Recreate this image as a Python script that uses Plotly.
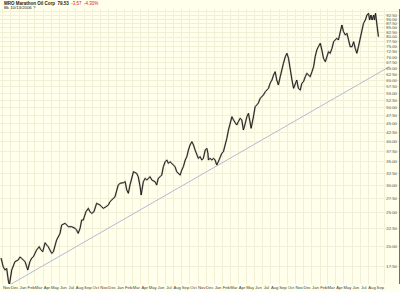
import plotly.graph_objects as go
import pandas as pd

# ---- data ----
dates = [
"2002-10-25","2002-11-02","2002-11-09","2002-11-15","2002-11-21","2002-11-25","2002-12-04","2002-12-10","2002-12-16","2002-12-28",
"2003-01-04","2003-01-10","2003-01-16","2003-01-23","2003-01-29","2003-02-02","2003-02-10","2003-02-17","2003-02-23","2003-03-01",
"2003-03-07","2003-03-17","2003-03-22","2003-03-30","2003-04-08","2003-04-14","2003-04-20","2003-04-26","2003-05-03","2003-05-09",
"2003-05-15","2003-05-21","2003-06-03","2003-06-09","2003-06-22","2003-07-04","2003-07-17","2003-07-29","2003-08-04","2003-08-10",
"2003-08-17","2003-08-23","2003-08-29","2003-09-08","2003-09-17","2003-09-23","2003-09-30","2003-10-08","2003-10-18","2003-10-31",
"2003-11-06","2003-11-12","2003-11-22","2003-12-01","2003-12-07","2003-12-20","2003-12-26","2004-01-07","2004-01-14","2004-01-26",
"2004-02-02","2004-02-08","2004-02-14","2004-02-20","2004-02-27","2004-03-04","2004-03-16","2004-03-22","2004-03-29","2004-04-02",
"2004-04-10","2004-04-17","2004-04-23","2004-05-05","2004-05-12","2004-05-24","2004-05-30","2004-06-05","2004-06-12","2004-06-18",
"2004-06-24","2004-07-01","2004-07-07","2004-07-13","2004-07-19","2004-08-01","2004-08-07","2004-08-13","2004-08-19","2004-08-26",
"2004-09-01","2004-09-07","2004-09-14","2004-09-20","2004-09-26","2004-10-02","2004-10-09","2004-10-15","2004-10-21","2004-10-27",
"2004-11-02","2004-11-09","2004-11-15","2004-11-21","2004-11-28","2004-12-04","2004-12-08","2004-12-10","2004-12-16","2004-12-23",
"2004-12-29","2005-01-04","2005-01-10","2005-01-16","2005-01-23","2005-01-29","2005-02-04","2005-02-11","2005-02-17","2005-02-23",
"2005-03-01","2005-03-08","2005-03-14","2005-03-20","2005-03-26","2005-04-01","2005-04-08","2005-04-14","2005-04-20","2005-04-27",
"2005-05-03","2005-05-09","2005-05-15","2005-05-19","2005-05-28","2005-06-03","2005-06-09","2005-06-15","2005-06-22","2005-06-28",
"2005-07-04","2005-07-11","2005-07-17","2005-07-23","2005-07-29","2005-08-05","2005-08-11","2005-08-17","2005-08-23","2005-08-29",
"2005-09-05","2005-09-11","2005-09-17","2005-09-24","2005-09-30","2005-10-06","2005-10-12","2005-10-19","2005-10-25","2005-10-31",
"2005-11-06","2005-11-12","2005-11-19","2005-11-25","2005-12-01","2005-12-08","2005-12-14","2005-12-20","2005-12-26","2006-01-02",
"2006-01-08","2006-01-14","2006-01-20","2006-01-26","2006-02-02","2006-02-08","2006-02-14","2006-02-21","2006-02-27","2006-03-05",
"2006-03-11","2006-03-18","2006-03-24","2006-03-30","2006-04-05","2006-04-11","2006-04-18","2006-04-24","2006-04-30","2006-05-07",
"2006-05-13","2006-05-19","2006-05-25","2006-06-01","2006-06-07","2006-06-13","2006-06-19","2006-06-25","2006-07-02","2006-07-08",
"2006-07-14","2006-07-21","2006-07-27","2006-08-02","2006-08-06","2006-08-11","2006-08-15","2006-08-21","2006-08-24","2006-08-28",
"2006-09-02","2006-09-08",
]
prices = [
18.51,17.48,17.10,17.29,16.00,15.48,17.10,17.67,18.07,18.27,
18.64,18.48,18.27,18.07,17.48,17.10,18.07,18.51,18.67,19.14,
19.52,19.95,19.61,19.30,20.49,20.18,19.95,19.52,19.10,19.30,
20.18,20.86,21.80,23.04,23.30,22.78,22.78,22.54,22.28,21.80,
22.54,23.81,23.81,25.16,25.73,25.16,24.89,25.16,26.59,26.30,
26.00,25.73,26.00,26.30,26.88,27.49,27.78,30.02,30.36,30.48,
30.69,29.05,28.42,30.02,31.45,32.79,32.44,31.72,29.69,28.10,
30.69,31.38,31.03,31.72,31.03,30.69,30.02,31.38,31.72,32.08,
33.89,35.03,35.43,34.66,35.03,34.28,33.89,32.79,32.44,32.08,
33.16,33.89,35.43,36.21,37.85,39.13,39.99,39.13,37.85,36.62,
35.83,36.21,35.43,35.83,37.85,38.28,37.04,35.43,35.83,35.43,
35.83,35.43,34.28,35.03,36.21,37.04,37.43,39.13,40.90,43.21,
45.17,47.20,46.17,45.17,44.67,45.65,46.70,46.17,43.21,45.17,
47.20,48.27,45.17,43.70,47.41,50.43,51.00,51.68,53.31,53.88,
54.49,55.69,56.32,56.96,58.88,60.18,62.20,63.58,60.18,58.22,
61.51,65.03,67.22,70.22,71.82,69.48,64.30,60.18,56.96,58.88,
60.18,56.96,56.32,58.88,59.50,61.51,62.91,62.20,61.51,63.58,
65.72,70.22,73.41,75.03,76.73,73.41,69.48,67.93,70.22,72.58,
71.82,74.23,77.55,78.43,79.32,78.43,83.80,86.62,82.86,81.07,
81.99,77.55,75.03,75.03,77.55,74.23,71.82,75.03,80.17,84.75,
87.60,89.54,92.55,93.60,89.54,92.55,89.54,92.55,89.54,93.60,
86.62,80.17,
]
trend_dates = ["2002-11-25", "2006-10-19"]
trend_values = [15.48, 65.72]

price_ticks = [17.5 + 2.5 * i for i in range(32)]          # 17.50 ... 95.00
price_tick_text = ["%.2f" % v for v in price_ticks]

month_starts = pd.date_range("2002-11-01", "2006-11-01", freq="MS")
label_dates = [d + pd.Timedelta(days=14) for d in month_starts[:-1]]
label_text = [d.strftime("%b") for d in month_starts[:-1]]

title_main = "MRO Marathon Oil Corp  79.53"
title_change = "-3.57  -4.30%"
title_sub = "Bk 10/13/2006 ?"

# ---- figure ----
BG = "#FFFFEB"
GRID = "#F1EFD6"
W, H = 400, 292
M_T, M_B, M_L, M_R = 9, 8, 0, 1
ph = H - M_T - M_B

fig = go.Figure()
fig.add_trace(go.Scatter(x=trend_dates, y=trend_values, mode="lines",
                         line=dict(color="#B4B9D6", width=1), hoverinfo="skip"))
fig.add_trace(go.Scatter(x=dates, y=prices, mode="lines",
                         line=dict(color="rgba(60,60,60,0.35)", width=1.8), hoverinfo="skip"))
fig.add_trace(go.Scatter(x=dates, y=prices, mode="lines",
                         line=dict(color="#111111", width=0.9), hoverinfo="skip"))

fig.update_layout(
    width=W, height=H,
    margin=dict(l=M_L, r=M_R, t=M_T, b=M_B, pad=0),
    paper_bgcolor=BG, plot_bgcolor=BG,
    showlegend=False,
    font=dict(family="Liberation Sans, Arial, sans-serif", size=4, color="#333333"),
    xaxis=dict(
        type="date",
        range=["2002-10-21", "2006-11-24"],
        tickmode="array", tickvals=label_dates, ticktext=label_text,
        tickangle=0, ticklabeloverflow="allow",
        showgrid=False, ticks="", zeroline=False, showline=False,
        tickfont=dict(size=4.2, color="#444444"),
        minor=dict(tickmode="array", tickvals=list(month_starts), showgrid=True,
                   gridcolor=GRID, gridwidth=1, ticks=""),
    ),
    yaxis=dict(
        type="log",
        range=[1.19284, 1.98363],
        side="right",
        tickmode="array", tickvals=price_ticks, ticktext=price_tick_text,
        ticklabelposition="inside",
        showgrid=True, gridcolor=GRID, gridwidth=1,
        ticks="", zeroline=False,
        showline=True, linecolor="#6E6E6E", linewidth=1,
        tickfont=dict(size=4.2, color="#555555"),
    ),
)

fig.add_annotation(xref="paper", yref="paper", x=0.005, y=1 + 5.5 / ph,
                   xanchor="left", yanchor="middle", showarrow=False,
                   text="<b>" + title_main + "</b>  <span style='color:#E0201B'>" + title_change + "</span>",
                   font=dict(size=4.5, color="#222222"))
fig.add_annotation(xref="paper", yref="paper", x=0.005, y=1 + 1.8 / ph,
                   xanchor="left", yanchor="middle", showarrow=False,
                   text=title_sub, font=dict(size=4.3, color="#222222"))

fig.write_html("out.html")
